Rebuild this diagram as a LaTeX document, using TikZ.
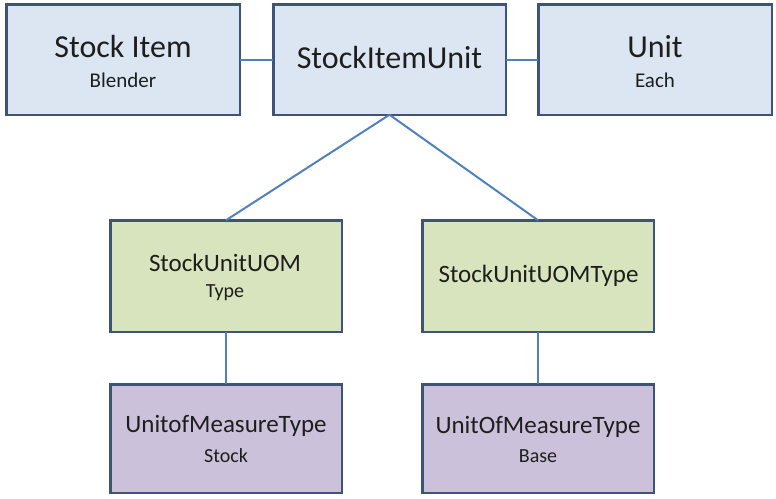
\documentclass[tikz,border=0pt]{standalone}
\usepackage{fontspec}
\setmainfont{Carlito}
\definecolor{bordc}{HTML}{3E5375}
\definecolor{bluefill}{HTML}{DCE6F2}
\definecolor{greenfill}{HTML}{D7E4BD}
\definecolor{purplefill}{HTML}{CCC1DA}
\definecolor{linkc}{HTML}{4F81BD}
\definecolor{txtc}{HTML}{1E1E1E}
\tikzset{
  box/.style={draw=bordc, line width=2.5pt, rectangle, inner sep=0pt, outer sep=0pt},
  topbox/.style={box, fill=bluefill, minimum width=233.5pt, minimum height=110.5pt},
  midbox/.style={box, fill=greenfill, minimum width=231.5pt, minimum height=111.5pt},
  botbox/.style={box, fill=purplefill, minimum width=231.5pt, minimum height=108.5pt},
  link/.style={draw=linkc, line width=2pt},
  bigtxt/.style={inner sep=0pt, anchor=base, text=txtc, font=\fontsize{32}{36}\selectfont},
  midtxt/.style={inner sep=0pt, anchor=base, text=txtc, font=\fontsize{25}{30}\selectfont},
  subtxt/.style={inner sep=0pt, anchor=base, text=txtc, font=\fontsize{21}{25}\selectfont},
  subtxtb/.style={inner sep=0pt, anchor=base, text=txtc, font=\fontsize{20}{24}\selectfont},
}
\begin{document}
\begin{tikzpicture}[x=1pt,y=-1pt]
\useasboundingbox (0,0) rectangle (776,498);
% connectors first (behind boxes)
\node[topbox] (si) at (123,59.5) {};
\node[topbox, minimum width=232.5pt] (siu) at (389.5,59.5) {};
\node[topbox] (u) at (655,59.5) {};
\node[midbox] (m1) at (226,276) {};
\node[midbox] (m2) at (538,276) {};
\node[botbox] (b1) at (226,438.5) {};
\node[botbox] (b2) at (538,438.5) {};
\begin{scope}[on background layer/.try]
\end{scope}
\draw[link] (si.east) -- (siu.west);
\draw[link] (siu.east) -- (u.west);
\draw[link] (siu.south) -- (m1.north);
\draw[link] (siu.south) -- (m2.north);
\draw[link] (m1.south) -- (b1.north);
\draw[link] (m2.south) -- (b2.north);
% texts
\node[bigtxt] (t1) at (123,57) {Stock Item};
\node[subtxt] (t1s) at (123,87) {Blender};
\node[bigtxt] (t2) at (389.5,68) {StockItemUnit};
\node[bigtxt] (t3) at (655,57) {Unit};
\node[subtxt] (t3s) at (655,87) {Each};
\node[midtxt] (t4) at (225,271) {StockUnitUOM};
\node[subtxtb] (t4s) at (225,297) {Type};
\node[midtxt] (t5) at (538.5,282) {StockUnitUOMType};
\node[midtxt] (t6) at (226,432) {UnitofMeasureType};
\node[subtxtb] (t6s) at (226,462) {Stock};
\node[midtxt] (t7) at (538,433) {UnitOfMeasureType};
\node[subtxtb] (t7s) at (538,462) {Base};
\end{tikzpicture}
\end{document}
